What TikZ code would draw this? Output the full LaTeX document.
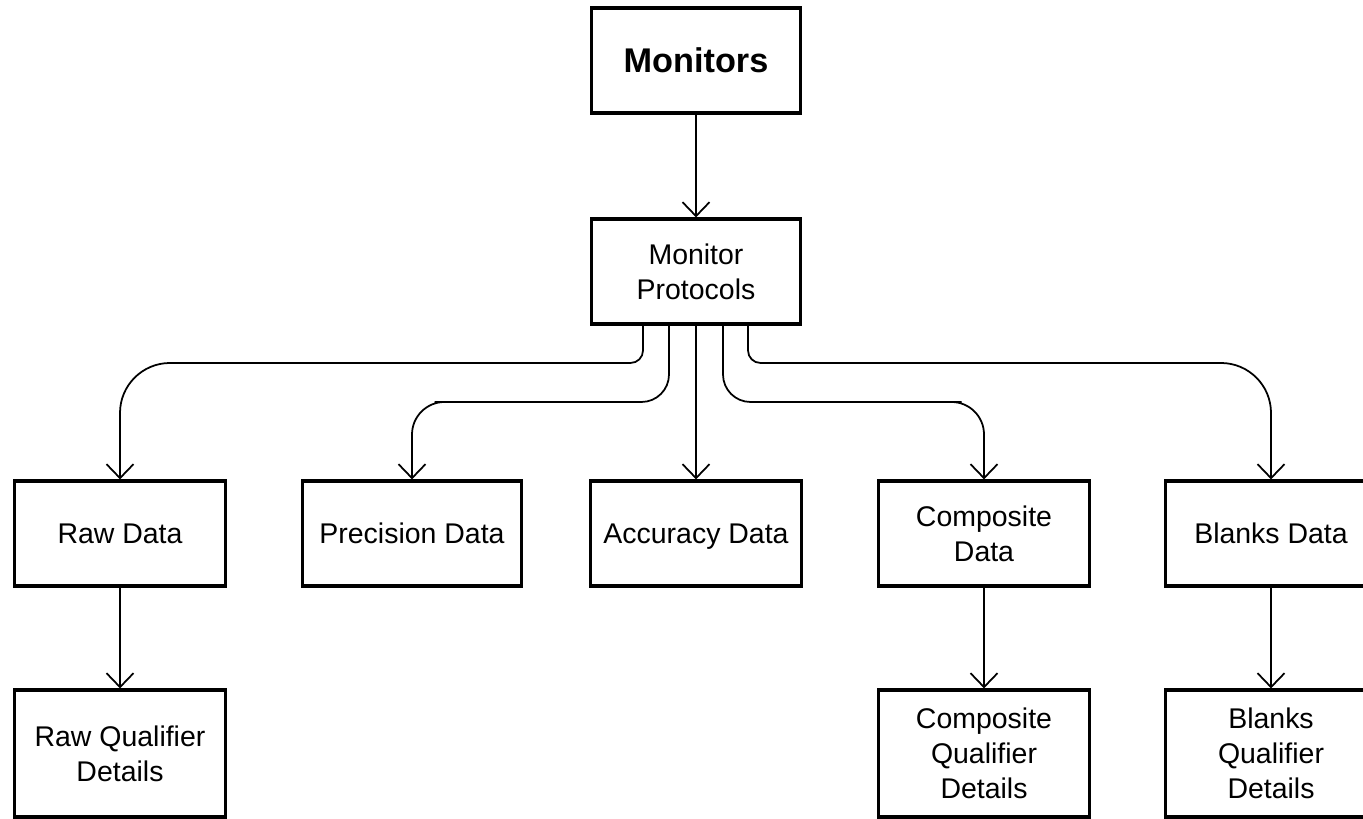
\documentclass[tikz,border=0pt]{standalone}
\usepackage{fontspec}
\setmainfont{Liberation Sans}
\usetikzlibrary{arrows.meta}

\tikzset{
	box/.style={draw, line width=1.8pt, minimum width=4.22cm, minimum height=2.1cm, inner sep=0pt, align=center, font=\fontsize{16.2}{20}\selectfont},
	qbox/.style={box, minimum height=2.54cm},
	conn/.style={line width=1pt, -{Straight Barb[length=0.28cm, width=0.54cm, line width=1pt]}},
}

\begin{document}
\begin{tikzpicture}
					\useasboundingbox (0,0) rectangle (27.26,16.38);
					
					% Top of the tree
					\node[box, minimum width=4.18cm, font=\bfseries\fontsize{19.5}{23}\selectfont] (mon) at (13.92,15.17) {Monitors};
					\node[box, minimum width=4.18cm] (prot) at (13.92,10.95) {Monitor\\Protocols};
					
					% Data boxes
					\node[box] (raw) at (2.40,5.71) {Raw Data};
					\node[box, minimum width=4.38cm] (prec) at (8.24,5.71) {Precision Data};
					\node[box, text depth=0pt] (acc) at (13.92,5.71) {Accuracy Data};
					\node[box] (comp) at (19.68,5.71) {Composite\\Data};
					\node[box] (blank) at (25.42,5.71) {Blanks Data};
					
					% Qualifier boxes (cut by the bottom edge)
					\node[qbox] (rawq) at (2.40,1.31) {Raw Qualifier\\Details};
					\node[qbox] (compq) at (19.68,1.31) {Composite\\Qualifier\\Details};
					\node[qbox] (blankq) at (25.42,1.31) {Blanks\\Qualifier\\Details};
					
					% Straight connectors
					\draw[conn] (mon) -- (prot);
					\draw[conn] (prot) -- (acc);
					\draw[conn] (raw) -- (rawq);
					\draw[conn] (comp) -- (compq);
					\draw[conn] (blank) -- (blankq);
					
					% Bent connectors out of the protocols box
					\draw[conn, rounded corners=0.25cm] ([xshift=-1.06cm]prot.south) |- ([xshift=1.5cm]raw.north |- 0,9.12) [rounded corners=1cm] -| (raw.north); % outer left
					\draw[conn, rounded corners=0.55cm] ([xshift=-0.54cm]prot.south) |- ([xshift=1cm]prec.north |- 0,8.34) [rounded corners=0.65cm] -| (prec.north); % inner left
					\draw[conn, rounded corners=0.55cm] ([xshift=0.54cm]prot.south) |- ([xshift=-1cm]comp.north |- 0,8.34) [rounded corners=0.65cm] -| (comp.north); % inner right
					\draw[conn, rounded corners=0.25cm] ([xshift=1.04cm]prot.south) |- ([xshift=-1.5cm]blank.north |- 0,9.12) [rounded corners=1cm] -| (blank.north); % outer right
\end{tikzpicture}
\end{document}
